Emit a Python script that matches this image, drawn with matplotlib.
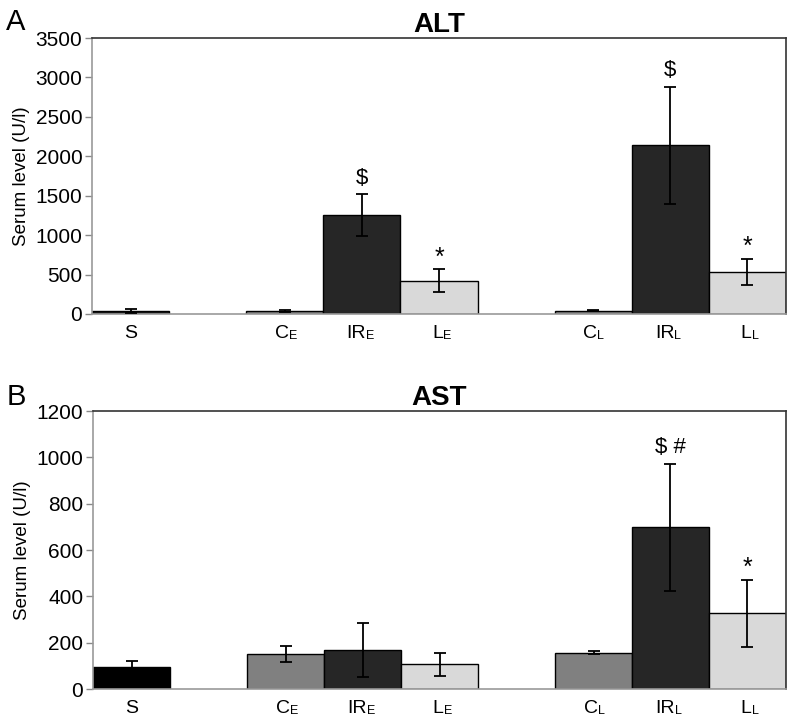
import matplotlib
matplotlib.use("Agg")
import matplotlib.pyplot as plt

# data
slots = [0, 2, 3, 4, 6, 7, 8]
base_labels = ["S", "C", "IR", "L", "C", "IR", "L"]
sub_labels = ["", "E", "E", "E", "L", "L", "L"]

alt_mean = [35, 40, 1255, 420, 40, 2140, 535]
alt_err = [25, 10, 262, 146, 8, 742, 165]
alt_marks = ["", "", r"\$", "*", "", r"\$", "*"]

ast_mean = [94, 151, 169, 107, 157, 698, 327]
ast_err = [29, 35, 117, 50, 7, 275, 145]
ast_marks = ["", "", "", "", "", r"\$ #", "*"]

colors_alt = ["#1a1a1a", "#808080", "#262626", "#d9d9d9", "#808080", "#262626", "#d9d9d9"]
colors_ast = ["#000000", "#808080", "#262626", "#d9d9d9", "#808080", "#262626", "#d9d9d9"]

plt.rcParams["font.family"] = ["Liberation Sans", "DejaVu Sans"]


def draw(ax, means, errs, marks, colors, ymax, ystep, title):
    ax.bar(slots, means, width=1.0, color=colors, edgecolor="black", linewidth=1.0, zorder=2)
    ax.errorbar(slots, means, yerr=errs, fmt="none", ecolor="black", elinewidth=1.3,
                capsize=4.5, capthick=1.3, zorder=3)
    for x, m, e, t in zip(slots, means, errs, marks):
        if t:
            fs = 18 if t == "*" else 16
            ax.annotate(t, (x, m + e), xytext=(0, 4 if t != "*" else 0), textcoords="offset points",
                        ha="center", va="bottom", fontsize=fs)
    # x labels: main letters with a small subscript letter
    for x, b, s in zip(slots, base_labels, sub_labels):
        if s:
            ax.annotate(b, (x, 0), xycoords=("data", "axes fraction"), xytext=(3, -8),
                        textcoords="offset points", ha="right", va="top", fontsize=14)
            ax.annotate(s, (x, 0), xycoords=("data", "axes fraction"), xytext=(3, -11.5),
                        textcoords="offset points", ha="left", va="top", fontsize=9)
        else:
            ax.annotate(b, (x, 0), xycoords=("data", "axes fraction"), xytext=(0, -8),
                        textcoords="offset points", ha="center", va="top", fontsize=14)
    ax.set_xlim(-0.5, 8.5)
    ax.set_ylim(0, ymax)
    ax.set_yticks(range(0, ymax + 1, ystep))
    ax.set_xticks([])
    ax.tick_params(axis="y", labelsize=15, length=5, width=1, color="#888888", pad=2)
    ax.set_ylabel("Serum level (U/l)", fontsize=13.5, labelpad=4)
    ax.set_title(title, fontsize=20, fontweight="bold", pad=4)
    ax.spines["left"].set_color("#999999")
    ax.spines["bottom"].set_color("#999999")
    ax.spines["top"].set_color("#333333")
    ax.spines["right"].set_color("#333333")
    for s in ax.spines.values():
        s.set_linewidth(1.2)


fig = plt.figure(figsize=(7.94, 7.24), dpi=100)
ax1 = fig.add_axes([0.1159, 0.5663, 0.874, 0.3812])
ax2 = fig.add_axes([0.1172, 0.0483, 0.8727, 0.3840])

draw(ax1, alt_mean, alt_err, alt_marks, colors_alt, 3500, 500, "ALT")
draw(ax2, ast_mean, ast_err, ast_marks, colors_ast, 1200, 200, "AST")

fig.text(0.008, 0.958, "A", fontsize=21)
fig.text(0.008, 0.44, "B", fontsize=21)

fig.savefig("out.png", dpi=100)
